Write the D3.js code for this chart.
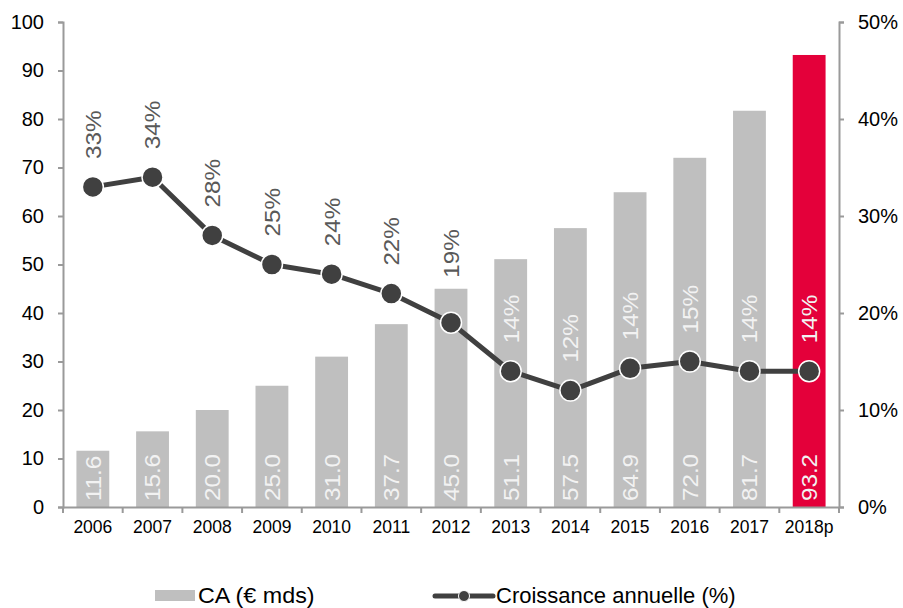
<!DOCTYPE html>
<html lang="fr">
  <head>
    <meta charset="utf-8" />
    <title>CA et croissance annuelle</title>
    <script src="https://cdnjs.cloudflare.com/ajax/libs/d3/7.8.5/d3.min.js"></script>
    <style type="text/css">
      body { margin: 0; background: #fff; }
      svg { display: block; font-family: "Liberation Sans", Arial, sans-serif; }
      .axis .domain, .axis .tick line { stroke: #9a9a9a; stroke-width: 2; }
      .axis text { fill: #000; }
    </style>
  </head>
  <body>
    <script>
      // data
      const years = ['2006', '2007', '2008', '2009', '2010', '2011', '2012', '2013', '2014', '2015', '2016', '2017', '2018p'];
      const ca = [11.6, 15.6, 20.0, 25.0, 31.0, 37.7, 45.0, 51.1, 57.5, 64.9, 72.0, 81.7, 93.2];
      const growth = [33, 34, 28, 25, 24, 22, 19, 14, 12, 14.3, 15, 14, 14];
      const leftTicks = [0, 10, 20, 30, 40, 50, 60, 70, 80, 90, 100];
      const rightTicks = [0, 10, 20, 30, 40, 50];
      const legendLabels = ['CA (€ mds)', 'Croissance annuelle (%)'];

      const width = 903;
      const height = 608;
      const marginLeft = 63;
      const marginRight = 64;
      const marginTop = 22;
      const marginBottom = 101;

      const barGrey = '#bfbfbf';
      const barRed = '#e4003a';
      const lineColor = '#404040';
      const stretch = 1.1; // rotated labels look drawn a bit long

      const svg = d3.select('body').append('svg')
        .attr('width', width)
        .attr('height', height)
        .attr('viewBox', [0, 0, width, height]);

      const x = d3.scaleBand()
        .domain(years)
        .range([marginLeft, width - marginRight])
        .paddingInner(0.45)
        .paddingOuter(0.225);

      const xEdge = d3.scaleBand().domain(years).range([marginLeft, width - marginRight]);

      const y = d3.scaleLinear().domain([0, 100]).range([height - marginBottom, marginTop]);
      const y2 = d3.scaleLinear().domain([0, 50]).range([height - marginBottom, marginTop]);

      // bars
      svg.append('g')
        .selectAll('rect')
        .data(ca)
        .join('rect')
        .attr('x', (d, i) => x(years[i]))
        .attr('y', d => y(d))
        .attr('width', x.bandwidth())
        .attr('height', d => y(0) - y(d))
        .attr('fill', (d, i) => i === ca.length - 1 ? barRed : barGrey);

      // bar value labels
      svg.append('g')
        .selectAll('text')
        .data(ca)
        .join('text')
        .attr('transform', (d, i) => `translate(${x(years[i]) + x.bandwidth() / 2},${y(0) - 6}) rotate(-90) scale(${stretch},1)`)
        .attr('dy', '0.36em')
        .attr('font-size', 22)
        .attr('fill', '#f2f2f2')
        .text(d => d.toFixed(1));

      // axes
      svg.append('g')
        .attr('class', 'axis')
        .attr('transform', `translate(${marginLeft},0)`)
        .call(d3.axisLeft(y).tickValues(leftTicks).tickSize(5).tickPadding(14).tickSizeOuter(5))
        .call(g => g.selectAll('text').attr('font-size', 20));

      svg.append('g')
        .attr('class', 'axis')
        .attr('transform', `translate(${width - marginRight},0)`)
        .call(d3.axisRight(y2).tickValues(rightTicks).tickFormat(d => d + '%').tickSize(5).tickPadding(14).tickSizeOuter(5))
        .call(g => g.selectAll('text').attr('font-size', 20));

      const xAxis = svg.append('g')
        .attr('class', 'axis')
        .attr('transform', `translate(0,${height - marginBottom})`)
        .call(d3.axisBottom(x).tickSize(0).tickPadding(14).tickSizeOuter(0))
        .call(g => g.selectAll('text').attr('font-size', 17.5));

      // category boundary ticks
      const edges = years.map(d => xEdge(d)).concat([xEdge(years[years.length - 1]) + xEdge.bandwidth()]);
      xAxis.append('g')
        .selectAll('line')
        .data(edges)
        .join('line')
        .attr('x1', d => d)
        .attr('x2', d => d)
        .attr('y1', 0)
        .attr('y2', 6)
        .attr('stroke', '#9a9a9a')
        .attr('stroke-width', 2);

      // growth line
      const cx = (d, i) => x(years[i]) + x.bandwidth() / 2;
      const line = d3.line().x(cx).y(d => y2(d));

      svg.append('path')
        .datum(growth)
        .attr('fill', 'none')
        .attr('stroke', lineColor)
        .attr('stroke-width', 5)
        .attr('stroke-linejoin', 'round')
        .attr('d', line);

      svg.append('g')
        .selectAll('circle')
        .data(growth)
        .join('circle')
        .attr('cx', cx)
        .attr('cy', d => y2(d))
        .attr('r', 10.5)
        .attr('fill', lineColor)
        .attr('stroke', '#fff')
        .attr('stroke-width', 1.5);

      // growth labels: grey above bars, light inside bars,
      // moved above the bar top when they would straddle it
      svg.append('g')
        .selectAll('text')
        .data(growth)
        .join('text')
        .attr('dy', '0.36em')
        .attr('font-size', 22)
        .text(d => Math.round(d) + '%')
        .each(function (d, i) {
          const len = this.getComputedTextLength() * stretch;
          const barTop = y(ca[i]);
          let start = y2(d) - 28;
          let fill = '#595959';
          if (start - len > barTop) fill = '#f2f2f2';
          else if (start > barTop) start = barTop - 11;
          d3.select(this)
            .attr('fill', fill)
            .attr('transform', `translate(${cx(d, i)},${start}) rotate(-90) scale(${stretch},1)`);
        });

      // legend
      const legend = svg.append('g').attr('font-size', 22);
      legend.append('rect')
        .attr('x', 155).attr('y', 590).attr('width', 40).attr('height', 11)
        .attr('fill', barGrey);
      legend.append('text')
        .attr('x', 198).attr('y', 603)
        .attr('fill', '#000')
        .attr('transform', 'translate(198,0) scale(1.06,1) translate(-198,0)')
        .text(legendLabels[0]);
      legend.append('line')
        .attr('x1', 435).attr('x2', 493).attr('y1', 596).attr('y2', 596)
        .attr('stroke', lineColor).attr('stroke-width', 5).attr('stroke-linecap', 'round');
      legend.append('circle')
        .attr('cx', 464).attr('cy', 596).attr('r', 5.5)
        .attr('fill', lineColor).attr('stroke', '#fff').attr('stroke-width', 1);
      legend.append('text')
        .attr('x', 496).attr('y', 603)
        .attr('fill', '#000')
        .text(legendLabels[1]);
    </script>
  </body>
</html>
